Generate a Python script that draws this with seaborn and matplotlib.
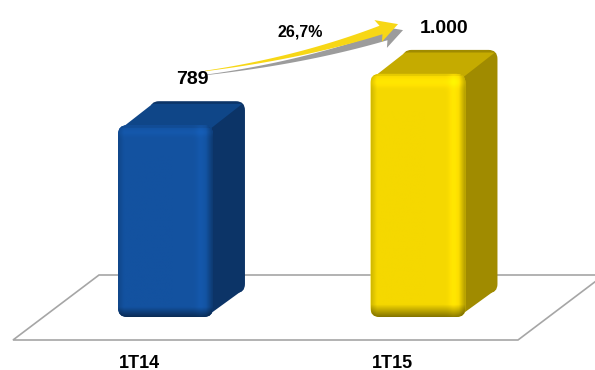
import numpy as np
import matplotlib
matplotlib.use("Agg")
import matplotlib.pyplot as plt
from matplotlib.patches import Polygon, FancyBboxPatch
from matplotlib.transforms import Affine2D
import seaborn as sns
import pandas as pd

# ---- data ----
periods = ["1T14", "1T15"]
values = [789, 1000]
front_colors = ["#1352a0", "#f5d800"]
side_colors = ["#0c3467", "#a08b00"]
top_colors = ["#0f4688", "#c5ab00"]

W, H = 595, 370

sns.set_theme(style="white")
plt.rcParams["font.family"] = ["Liberation Sans", "DejaVu Sans"]

fig = plt.figure(figsize=(W / 100, H / 100), dpi=100)
ax = fig.add_axes([0, 0, 1, 1])

df = pd.DataFrame({"periodo": periods, "valor": values})
sns.barplot(data=df, x="periodo", y="valor", hue="periodo",
            palette=front_colors, width=0.376, saturation=1,
            legend=False, ax=ax)
bars = list(ax.patches)

ax.set_xlim(-0.6554, 1.7010)
ax.set_ylim(-218, 1304)
ax.set_autoscale_on(False)
ax.axis("off")

# pixel space with origin at the top-left corner
PIX = Affine2D().scale(1 / W, -1 / H).translate(0, 1) + fig.transFigure


def to_px(x, y):
    dx, dy = ax.transData.transform((x, y))
    return dx, H - dy


def to_data(px, py):
    return ax.transData.inverted().transform((px, H - py))


# floor
floor = Polygon([(13, 340), (99, 275), (604, 275), (518, 340)], closed=True,
                transform=PIX, facecolor="white", edgecolor="#a6a6a6",
                lw=1.2, zorder=0.5)
ax.add_patch(floor)


def front_shading(base, nw, nh):
    base = np.array(matplotlib.colors.to_rgb(base))
    u = np.linspace(0, 1, nw)
    v = np.linspace(0, 1, nh)
    fx = np.ones(nw)
    fx = np.where(u < 0.06, 0.86 + 0.14 * u / 0.06, fx)
    fx = fx + np.exp(-((u - 0.875) / 0.05) ** 2) * 0.07
    fx = np.where(u > 0.93, fx * (1 - 0.28 * (u - 0.93) / 0.07), fx)
    fy = np.ones(nh)
    fy = fy + np.exp(-((v - 0.035) / 0.02) ** 2) * 0.07
    fy = np.where(v > 0.95, fy * (1 - 0.45 * (v - 0.95) / 0.05), fy)
    fy = np.where(v < 0.012, fy * 0.93, fy)
    img = base[None, None, :] * fx[None, :, None] * fy[:, None, None]
    return np.clip(img, 0, 1)


depth_x, depth_y = 32, -24
r = 9
k = 0.29 * r
for i, p in enumerate(bars):
    x0, w, h = p.get_x(), p.get_width(), p.get_height()
    L, T = to_px(x0, h)
    R, B = to_px(x0 + w, 0)
    p.set_visible(False)

    back = FancyBboxPatch((L + depth_x, T + depth_y), R - L, B - T,
                          boxstyle=f"round,pad=0,rounding_size={r}",
                          transform=PIX, fc=side_colors[i], ec="none", zorder=2)
    ax.add_patch(back)
    side = Polygon([(R - k - 1, T + k), (R + depth_x - k, T + depth_y + k),
                    (R + depth_x - k, B + depth_y - k), (R - k - 1, B - k)],
                   closed=True, transform=PIX, fc=side_colors[i], ec="none",
                   zorder=3)
    ax.add_patch(side)
    top = Polygon([(L + k, T + k + 1), (L + depth_x + k, T + depth_y + k),
                   (R + depth_x - k, T + depth_y + k), (R - k, T + k + 1)],
                  closed=True, transform=PIX, fc=top_colors[i], ec="none",
                  zorder=3)
    ax.add_patch(top)

    front = FancyBboxPatch((L, T), R - L, B - T,
                           boxstyle=f"round,pad=0,rounding_size={r}",
                           transform=PIX, fc=front_colors[i], ec="none",
                           zorder=4)
    ax.add_patch(front)
    nw, nh = int(R - L), int(B - T)
    xl, yb = to_data(L, B)
    xr, yt = to_data(R, T)
    im = ax.imshow(front_shading(front_colors[i], nw, nh),
                   extent=(xl, xr, yb, yt), origin="upper", aspect="auto",
                   interpolation="bilinear", zorder=5)
    im.set_clip_path(front)

    label = f"{values[i]:,.0f}".replace(",", ".")
    ax.annotate(label, xy=(x0 + w / 2, h), xytext=(19, 33),
                textcoords="offset points", ha="center", va="center",
                fontsize=14, fontweight="bold", color="black", zorder=8)
    ax.text(x0 + w / 2 - 26 / 252.5, to_data(0, 363)[1], periods[i],
            ha="center", va="center", fontsize=13, fontweight="bold",
            color="black", zorder=8)

ax.set_xlim(-0.6554, 1.7010)
ax.set_ylim(-218, 1304)


# growth arrow
def arrow_polygon(off_tail, off_head):
    P0 = np.array([205.0, 71.0])
    C = np.array([300.0, 58.0])
    P2 = np.array([381.0, 30.0])
    t = np.linspace(0, 1, 60)
    pts = ((1 - t) ** 2)[:, None] * P0 + (2 * (1 - t) * t)[:, None] * C + (t ** 2)[:, None] * P2
    tan = (2 * (1 - t))[:, None] * (C - P0) + (2 * t)[:, None] * (P2 - C)
    tan = tan / np.linalg.norm(tan, axis=1)[:, None]
    nrm = np.stack([tan[:, 1], -tan[:, 0]], axis=1)
    half = 0.3 + 4.2 * t ** 1.3
    off = np.array(off_tail)[None, :] * (1 - t)[:, None] + np.array(off_head)[None, :] * t[:, None]
    upper = pts + nrm * half[:, None] + off
    lower = pts - nrm * half[:, None] + off
    tdir, ndir = tan[-1], nrm[-1]
    oh = np.array(off_head)
    wing_up = P2 + ndir * 11.5 - tdir * 3 + oh
    wing_lo = P2 - ndir * 11.5 - tdir * 3 + oh
    tip = P2 + tdir * 18 + oh
    verts = np.vstack([upper, [wing_up, tip, wing_lo], lower[::-1]])
    return verts


ax.add_patch(Polygon(arrow_polygon((0, 4), (5, 6)), closed=True, transform=PIX,
                     fc="#9c9c9c", ec="none", zorder=6))
ax.add_patch(Polygon(arrow_polygon((0, 0), (0, 0)), closed=True, transform=PIX,
                     fc="#f7d716", ec="none", zorder=7))

growth = (values[1] / values[0] - 1) * 100
ax.text(300, 32, f"{growth:.1f}%".replace(".", ","), transform=PIX,
        ha="center", va="center", fontsize=11.5, fontweight="bold",
        color="black", zorder=8)

fig.savefig("out.png", dpi=100, facecolor="white")
